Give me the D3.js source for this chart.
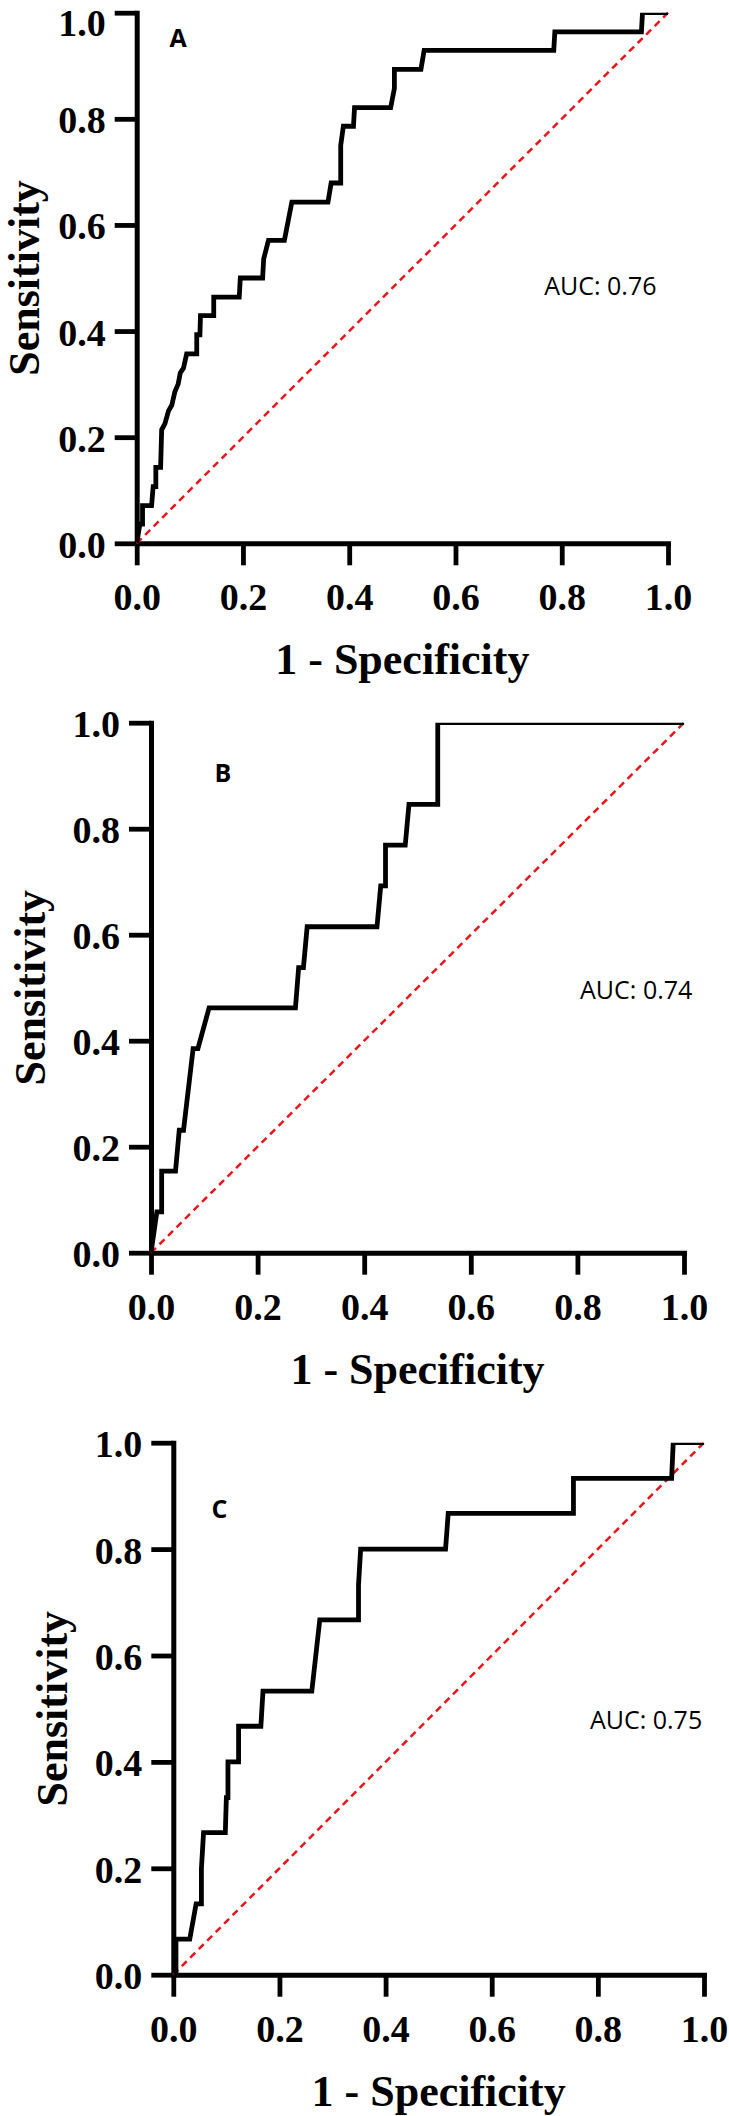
<!DOCTYPE html>
<html><head><meta charset="utf-8">
<script src="https://cdn.jsdelivr.net/npm/d3@7"></script>
<style>body{margin:0;background:#fff}svg{display:block}</style>
</head><body>
<script>
// ---- data ----
const tickValues = [0, 0.2, 0.4, 0.6, 0.8, 1.0];
const tickLabels = ["0.0", "0.2", "0.4", "0.6", "0.8", "1.0"];
const panelLabels = ["A", "B", "C"];
const aucLabels = ["AUC: 0.76", "AUC: 0.74", "AUC: 0.75"];
const xTitle = "1 - Specificity";
const yTitle = "Sensitivity";

const rocA_fpr = [0,0.006,0.011,0.011,0.028,0.031,0.036,0.036,0.045,0.047,0.053,0.060,0.066,0.072,0.078,0.082,0.088,0.094,0.113,0.113,0.119,0.120,0.145,0.145,0.193,0.195,0.237,0.239,0.248,0.278,0.292,0.360,0.366,0.384,0.384,0.389,0.408,0.410,0.478,0.485,0.485,0.535,0.541,0.785,0.787,0.950,0.952,1.0];
const rocA_tpr = [0,0.036,0.036,0.071,0.071,0.107,0.107,0.143,0.143,0.214,0.225,0.250,0.260,0.286,0.300,0.321,0.330,0.357,0.357,0.393,0.393,0.429,0.429,0.464,0.464,0.500,0.500,0.536,0.571,0.571,0.643,0.643,0.679,0.679,0.750,0.786,0.786,0.821,0.821,0.857,0.893,0.893,0.929,0.929,0.964,0.964,1.0,1.0];

const rocB_fpr = [0,0.011,0.020,0.020,0.046,0.053,0.061,0.079,0.088,0.109,0.271,0.277,0.286,0.293,0.424,0.431,0.440,0.440,0.477,0.484,0.538,0.538,1.0];
const rocB_tpr = [0,0.077,0.077,0.154,0.154,0.231,0.231,0.385,0.385,0.462,0.462,0.538,0.538,0.615,0.615,0.692,0.692,0.769,0.769,0.846,0.846,1.0,1.0];

const rocC_fpr = [0,0.005,0.005,0.031,0.043,0.053,0.053,0.057,0.098,0.100,0.103,0.103,0.123,0.123,0.165,0.169,0.261,0.276,0.349,0.349,0.353,0.513,0.518,0.754,0.754,0.939,0.942,1.0];
const rocC_tpr = [0,0,0.067,0.067,0.133,0.133,0.200,0.267,0.267,0.333,0.333,0.400,0.400,0.467,0.467,0.533,0.533,0.667,0.667,0.733,0.800,0.800,0.867,0.867,0.933,0.933,1.0,1.0];

const rocFpr = [rocA_fpr, rocB_fpr, rocC_fpr];
const rocTpr = [rocA_tpr, rocB_tpr, rocC_tpr];

// ---- layout (positions/sizes only) ----
const layouts = [
  {x0:136.7, x1:668,   yTop:12.7,   yBot:543.3,  lab:[0.078,0.935], auc:[0.767,0.468]},
  {x0:151,   x1:684,   yTop:722.7,  yBot:1252.7, lab:[0.135,0.888], auc:[0.805,0.479]},
  {x0:173.3, x1:704,   yTop:1442.7, yBot:1974.7, lab:[0.087,0.858], auc:[0.785,0.462]}
];
const serif = "'Liberation Serif','Times New Roman',serif";
const sans = "'Open Sans','Noto Sans',sans-serif";

const svg = d3.select("body").append("svg").attr("width",729).attr("height",2116);

layouts.forEach((L, i) => {
  const x = d3.scaleLinear().domain([0,1]).range([L.x0, L.x1]);
  const y = d3.scaleLinear().domain([0,1]).range([L.yBot, L.yTop]);
  const g = svg.append("g");

  g.append("clipPath").attr("id","clip"+i).append("rect")
    .attr("x", L.x0).attr("y", L.yTop).attr("width", L.x1-L.x0).attr("height", L.yBot-L.yTop);

  // axes
  const xa = g.append("g").attr("transform",`translate(0,${L.yBot})`)
    .call(d3.axisBottom(x).tickValues(tickValues).tickFormat((d,j)=>tickLabels[j]).tickSize(22).tickSizeOuter(0).tickPadding(8));
  const ya = g.append("g").attr("transform",`translate(${L.x0},0)`)
    .call(d3.axisLeft(y).tickValues(tickValues).tickFormat((d,j)=>tickLabels[j]).tickSize(22).tickSizeOuter(0).tickPadding(8));
  [xa, ya].forEach(a => {
    a.select(".domain").attr("stroke","#000").attr("stroke-width",5).attr("stroke-linecap","square");
    a.selectAll(".tick line").attr("stroke","#000").attr("stroke-width",4.8);
    a.selectAll(".tick text").attr("font-family",serif).attr("font-weight","bold")
      .attr("font-size",38).attr("fill","#000");
  });
  xa.selectAll(".tick text").attr("dy",null).attr("y",67);
  // keep the top label inside the page for panel A
  ya.selectAll(".tick text").attr("dy",null).attr("x",-31)
    .attr("y", function(d){ const ty = y(d); return Math.max(14, 35 - ty); });

  // diagonal reference
  g.append("line").attr("x1",x(0)).attr("y1",y(0)).attr("x2",x(1)).attr("y2",y(1))
    .attr("stroke","#e8161b").attr("stroke-width",2.5).attr("stroke-dasharray","7,5");

  // ROC curve
  const pts = rocFpr[i].map((f,k)=>[f, rocTpr[i][k]]);
  g.append("path").datum(pts).attr("clip-path",`url(#clip${i})`)
    .attr("d", d3.line().x(d=>x(d[0])).y(d=>y(d[1])))
    .attr("fill","none").attr("stroke","#000").attr("stroke-width",4.8)
    .attr("stroke-linejoin","miter");

  // texts
  g.append("text").attr("x",x(L.lab[0])).attr("y",y(L.lab[1])).attr("text-anchor","middle")
    .attr("font-family",sans).attr("font-weight","bold").attr("font-size",25).text(panelLabels[i]);
  g.append("text").attr("x",x(L.auc[0])).attr("y",y(L.auc[1]))
    .attr("font-family",sans).attr("font-size",25).text(aucLabels[i]);
  g.append("text").attr("x",(L.x0+L.x1)/2).attr("y",L.yBot+131).attr("text-anchor","middle")
    .attr("font-family",serif).attr("font-weight","bold").attr("font-size",44).text(xTitle);
  g.append("text").attr("transform",`translate(${Math.max(L.x0-106, 39)},${(L.yTop+L.yBot)/2}) rotate(-90)`)
    .attr("text-anchor","middle")
    .attr("font-family",serif).attr("font-weight","bold").attr("font-size",44).text(yTitle);
});
</script>
</body></html>
